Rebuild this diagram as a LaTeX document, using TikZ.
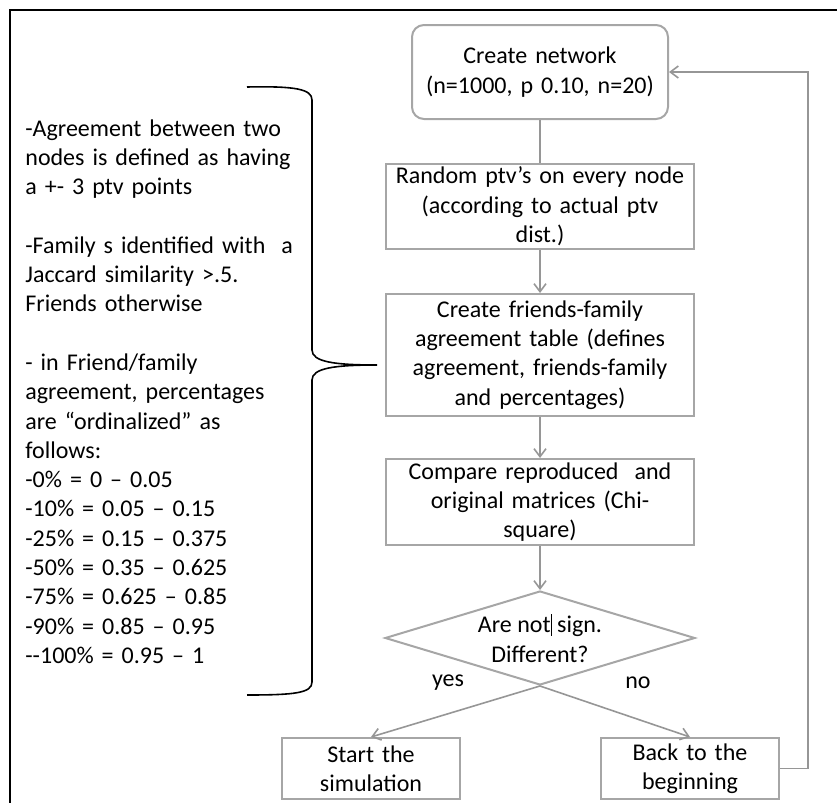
\documentclass[tikz,border=0pt]{standalone}
\usepackage{fontspec}
\setmainfont{Carlito}
\usetikzlibrary{shapes.geometric, arrows.meta, positioning}
\definecolor{boxgray}{RGB}{166,166,166}
\definecolor{linegray}{RGB}{150,150,150}
\newcommand{\chartfont}{\fontsize{12}{14.65}\selectfont}

\begin{document}
\begin{tikzpicture}[
    x=0.5pt, y=-0.5pt,
    node distance=21.5pt,
    box/.style={rectangle, draw=boxgray, line width=1pt, text width=150pt,
                inner xsep=2pt, inner ysep=0pt, align=center, font=\chartfont},
    decision/.style={diamond, draw=boxgray, line width=1pt, aspect=3.3,
                     inner sep=0pt, minimum width=155pt, minimum height=47pt,
                     align=center, font=\chartfont},
    arr/.style={-{Straight Barb[length=4pt,width=6pt]}, draw=linegray, line width=0.8pt},
    lbl/.style={font=\chartfont},
  ]
  \useasboundingbox (0,0) rectangle (837,803);
  \draw[line width=1pt] (10,803) -- (10,10) -- (837,10);

  % flow boxes
  \node[box, rounded corners=6pt, text width=124pt, minimum height=47pt] (net) at (540,72)
       {Create network\\(n=1000, p 0.10, n=20)};
  \node[box, minimum height=42.5pt, below=of net] (rnd)
       {Random ptv’s on every node\\(according to actual ptv\\dist.)};
  \node[box, minimum height=61pt, below=of rnd] (tab)
       {Create friends-family\\agreement table (defines\\agreement, friends-family\\and percentages)};
  \node[box, minimum height=43pt, below=20.5pt of tab] (cmp)
       {Compare reproduced \ and\\original matrices (Chi-\\square)};
  \node[decision, below=22pt of cmp] (dia)
       {Are not\rule[-1.5pt]{0.6pt}{11pt}\ sign.\\Different?};
  \node[box, text width=85pt, minimum height=30.5pt, below=25.5pt of dia, xshift=-84.5pt] (start)
       {Start the\\simulation};
  \node[box, text width=85pt, minimum height=30.5pt, below=25.5pt of dia, xshift=75pt] (back)
       {Back to the\\beginning};

  \draw[draw=linegray, line width=0.8pt] (net) -- (rnd);
  \draw[arr] (rnd) -- (tab);
  \draw[arr] (tab) -- (cmp);
  \draw[arr] (cmp) -- (dia);
  \draw[arr] (dia.south) -- (start.north);
  \draw[arr] (dia.south) -- (back.north);
  \draw[arr] (back.east) -- ++(14pt,0) |- (net.east);
  \node[lbl] (yes) at (448,683) {yes};
  \node[lbl] (no) at (638,683) {no};

  % notes and brace
  \node[lbl, anchor=north west, inner sep=0pt, text width=145pt, align=left] (notes) at (25,119)
       {-Agreement between two\\nodes is defined as having\\a +- 3 ptv points\\[14.65pt]
        -Family s identified with \ a\\Jaccard similarity >.5.\\Friends otherwise\\[14.65pt]
        - in Friend/family\\agreement, percentages\\are “ordinalized” as\\follows:\\
        -0\% = 0 – 0.05\\-10\% = 0.05 – 0.15\\-25\% = 0.15 – 0.375\\-50\% = 0.35 – 0.625\\
        -75\% = 0.625 – 0.85\\-90\% = 0.85 – 0.95\\-{}-100\% = 0.95 – 1};
  \draw[line width=0.8pt] (247,87) .. controls (295,86) and (312,89) .. (312,100)
       -- (312,350) .. controls (312,362) and (335,365) .. (377,365)
       .. controls (335,365) and (312,368) .. (312,380)
       -- (312,682) .. controls (312,693) and (295,695) .. (247,695);
\end{tikzpicture}
\end{document}
